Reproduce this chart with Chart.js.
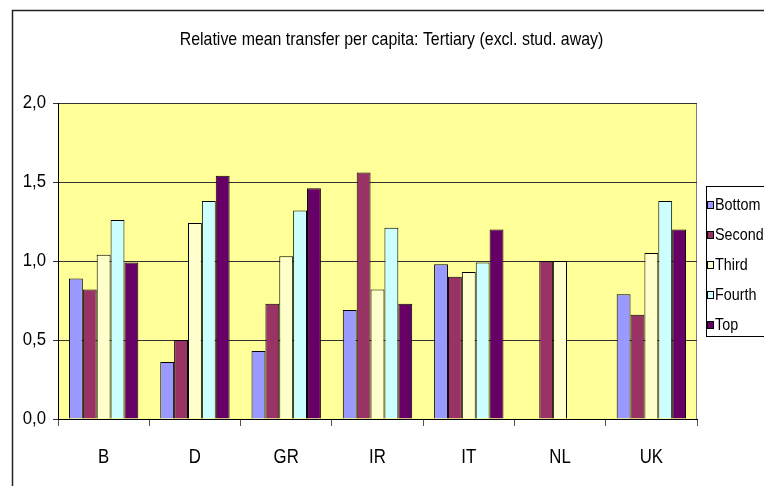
<!DOCTYPE html>
<html>
<head>
<meta charset="utf-8">
<script src="https://cdn.jsdelivr.net/npm/chart.js@4"></script>
<style>
  html, body { margin: 0; padding: 0; background: #fff; overflow: hidden; }
  #wrap { width: 764px; height: 486px; overflow: hidden; position: relative; }
  canvas { display: block; }
</style>
</head>
<body>
<div id="wrap"><canvas id="c" width="783" height="486"></canvas></div>
<script>
const categories = ['B', 'D', 'GR', 'IR', 'IT', 'NL', 'UK'];
const seriesNames = ['Bottom', 'Second', 'Third', 'Fourth', 'Top'];
const bottomValues = [0.89, 0.36, 0.43, 0.69, 0.98, null, 0.79];
const secondValues = [0.82, 0.50, 0.73, 1.56, 0.90, 1.00, 0.66];
const thirdValues  = [1.04, 1.24, 1.03, 0.82, 0.93, 1.00, 1.05];
const fourthValues = [1.26, 1.38, 1.32, 1.21, 0.99, null, 1.38];
const topValues    = [0.99, 1.54, 1.46, 0.73, 1.20, null, 1.20];
const yTicks = [0, 0.5, 1.0, 1.5, 2.0];
const titleText = 'Relative mean transfer per capita: Tertiary (excl. stud. away)';

const seriesColors = ['#9999FF', '#993366', '#FFFFCC', '#CCFFFF', '#660066'];
const allValues = [bottomValues, secondValues, thirdValues, fourthValues, topValues];
const FONT = '"Liberation Sans", Arial, sans-serif';

const datasets = seriesNames.map((name, i) => ({
  label: name,
  data: allValues[i],
  backgroundColor: seriesColors[i],
  borderColor: '#000',
  borderWidth: 1,
  categoryPercentage: 0.76,
  barPercentage: 1.0
}));

// draw horizontally condensed text (the reference uses a narrow face)
function narrowText(ctx, text, x, y, size, sx, align, baseline) {
  ctx.save();
  ctx.translate(x, y);
  ctx.scale(sx, 1);
  ctx.font = size + 'px ' + FONT;
  ctx.textAlign = align;
  ctx.textBaseline = baseline;
  ctx.fillStyle = '#000';
  ctx.fillText(text, 0, 0);
  ctx.restore();
}

const framePlugin = {
  id: 'frame',
  beforeDraw(chart) {
    const ctx = chart.ctx;
    const a = chart.chartArea;
    ctx.save();
    ctx.strokeStyle = '#222';
    ctx.lineWidth = 1.5;
    ctx.beginPath();
    ctx.moveTo(12.5, chart.height + 5);
    ctx.lineTo(12.5, 10.5);
    ctx.lineTo(chart.width + 5, 10.5);
    ctx.stroke();
    ctx.fillStyle = '#FFFF99';
    ctx.fillRect(a.left, a.top, a.right - a.left, a.bottom - a.top);
    ctx.strokeStyle = '#808080';
    ctx.lineWidth = 1;
    ctx.strokeRect(a.left + 0.5, a.top + 0.5, a.right - a.left - 1, a.bottom - a.top);
    ctx.restore();
  },
  afterDraw(chart) {
    const ctx = chart.ctx;
    const xs = chart.scales.x, ys = chart.scales.y;
    // title
    narrowText(ctx, titleText, 391.5, 45, 18.5, 0.86, 'center', 'alphabetic');
    // y tick labels
    ys.ticks.forEach(t => {
      narrowText(ctx, t.value.toFixed(1).replace('.', ','), 46, ys.getPixelForValue(t.value) + 0.5, 18, 0.93, 'right', 'middle');
    });
    // x tick labels
    categories.forEach((c, i) => {
      narrowText(ctx, c, xs.getPixelForTick(i), 463, 21, 0.8, 'center', 'alphabetic');
    });
    // legend
    ctx.save();
    const boxLeft = 706, boxTop = 186, boxH = 150;
    ctx.fillStyle = '#fff';
    ctx.fillRect(boxLeft, boxTop, chart.width - boxLeft + 5, boxH);
    ctx.strokeStyle = '#000';
    ctx.lineWidth = 1;
    ctx.strokeRect(boxLeft + 0.5, boxTop + 0.5, chart.width - boxLeft + 5, boxH);
    ctx.restore();
    chart.data.datasets.forEach((d, i) => {
      const cy = 204 + i * 30;
      ctx.save();
      ctx.fillStyle = d.backgroundColor;
      ctx.fillRect(707, cy - 3, 6, 7);
      ctx.strokeStyle = '#000';
      ctx.lineWidth = 1;
      ctx.strokeRect(707.5, cy - 2.5, 6, 7);
      ctx.restore();
      narrowText(ctx, d.label, 715, cy + 6, 16.5, 0.87, 'left', 'alphabetic');
    });
  }
};

new Chart(document.getElementById('c'), {
  type: 'bar',
  data: { labels: categories, datasets },
  options: {
    responsive: false,
    animation: false,
    devicePixelRatio: 1,
    layout: { padding: { left: 0, right: 0, top: 103, bottom: 0 } },
    plugins: {
      legend: { display: false },
      tooltip: { enabled: false },
      title: { display: false }
    },
    scales: {
      x: {
        grid: { display: true, drawOnChartArea: false, drawTicks: true, tickLength: 7, offset: true, color: '#555' },
        border: { display: true, color: '#000', width: 1 },
        ticks: { display: false },
        afterFit(s) { s.height = 67; }
      },
      y: {
        min: 0, max: 2,
        afterBuildTicks(s) { s.ticks = yTicks.map(v => ({ value: v })); },
        grid: { color: '#333', drawTicks: true, tickLength: 5 },
        border: { display: true, color: '#000', width: 1 },
        ticks: { display: false },
        afterFit(s) { s.width = 58; }
      },
      yRight: {
        position: 'right',
        display: true,
        grid: { display: false },
        border: { display: false },
        ticks: { display: false },
        afterFit(s) { s.width = 86; }
      }
    }
  },
  plugins: [framePlugin]
});
</script>
</body>
</html>
